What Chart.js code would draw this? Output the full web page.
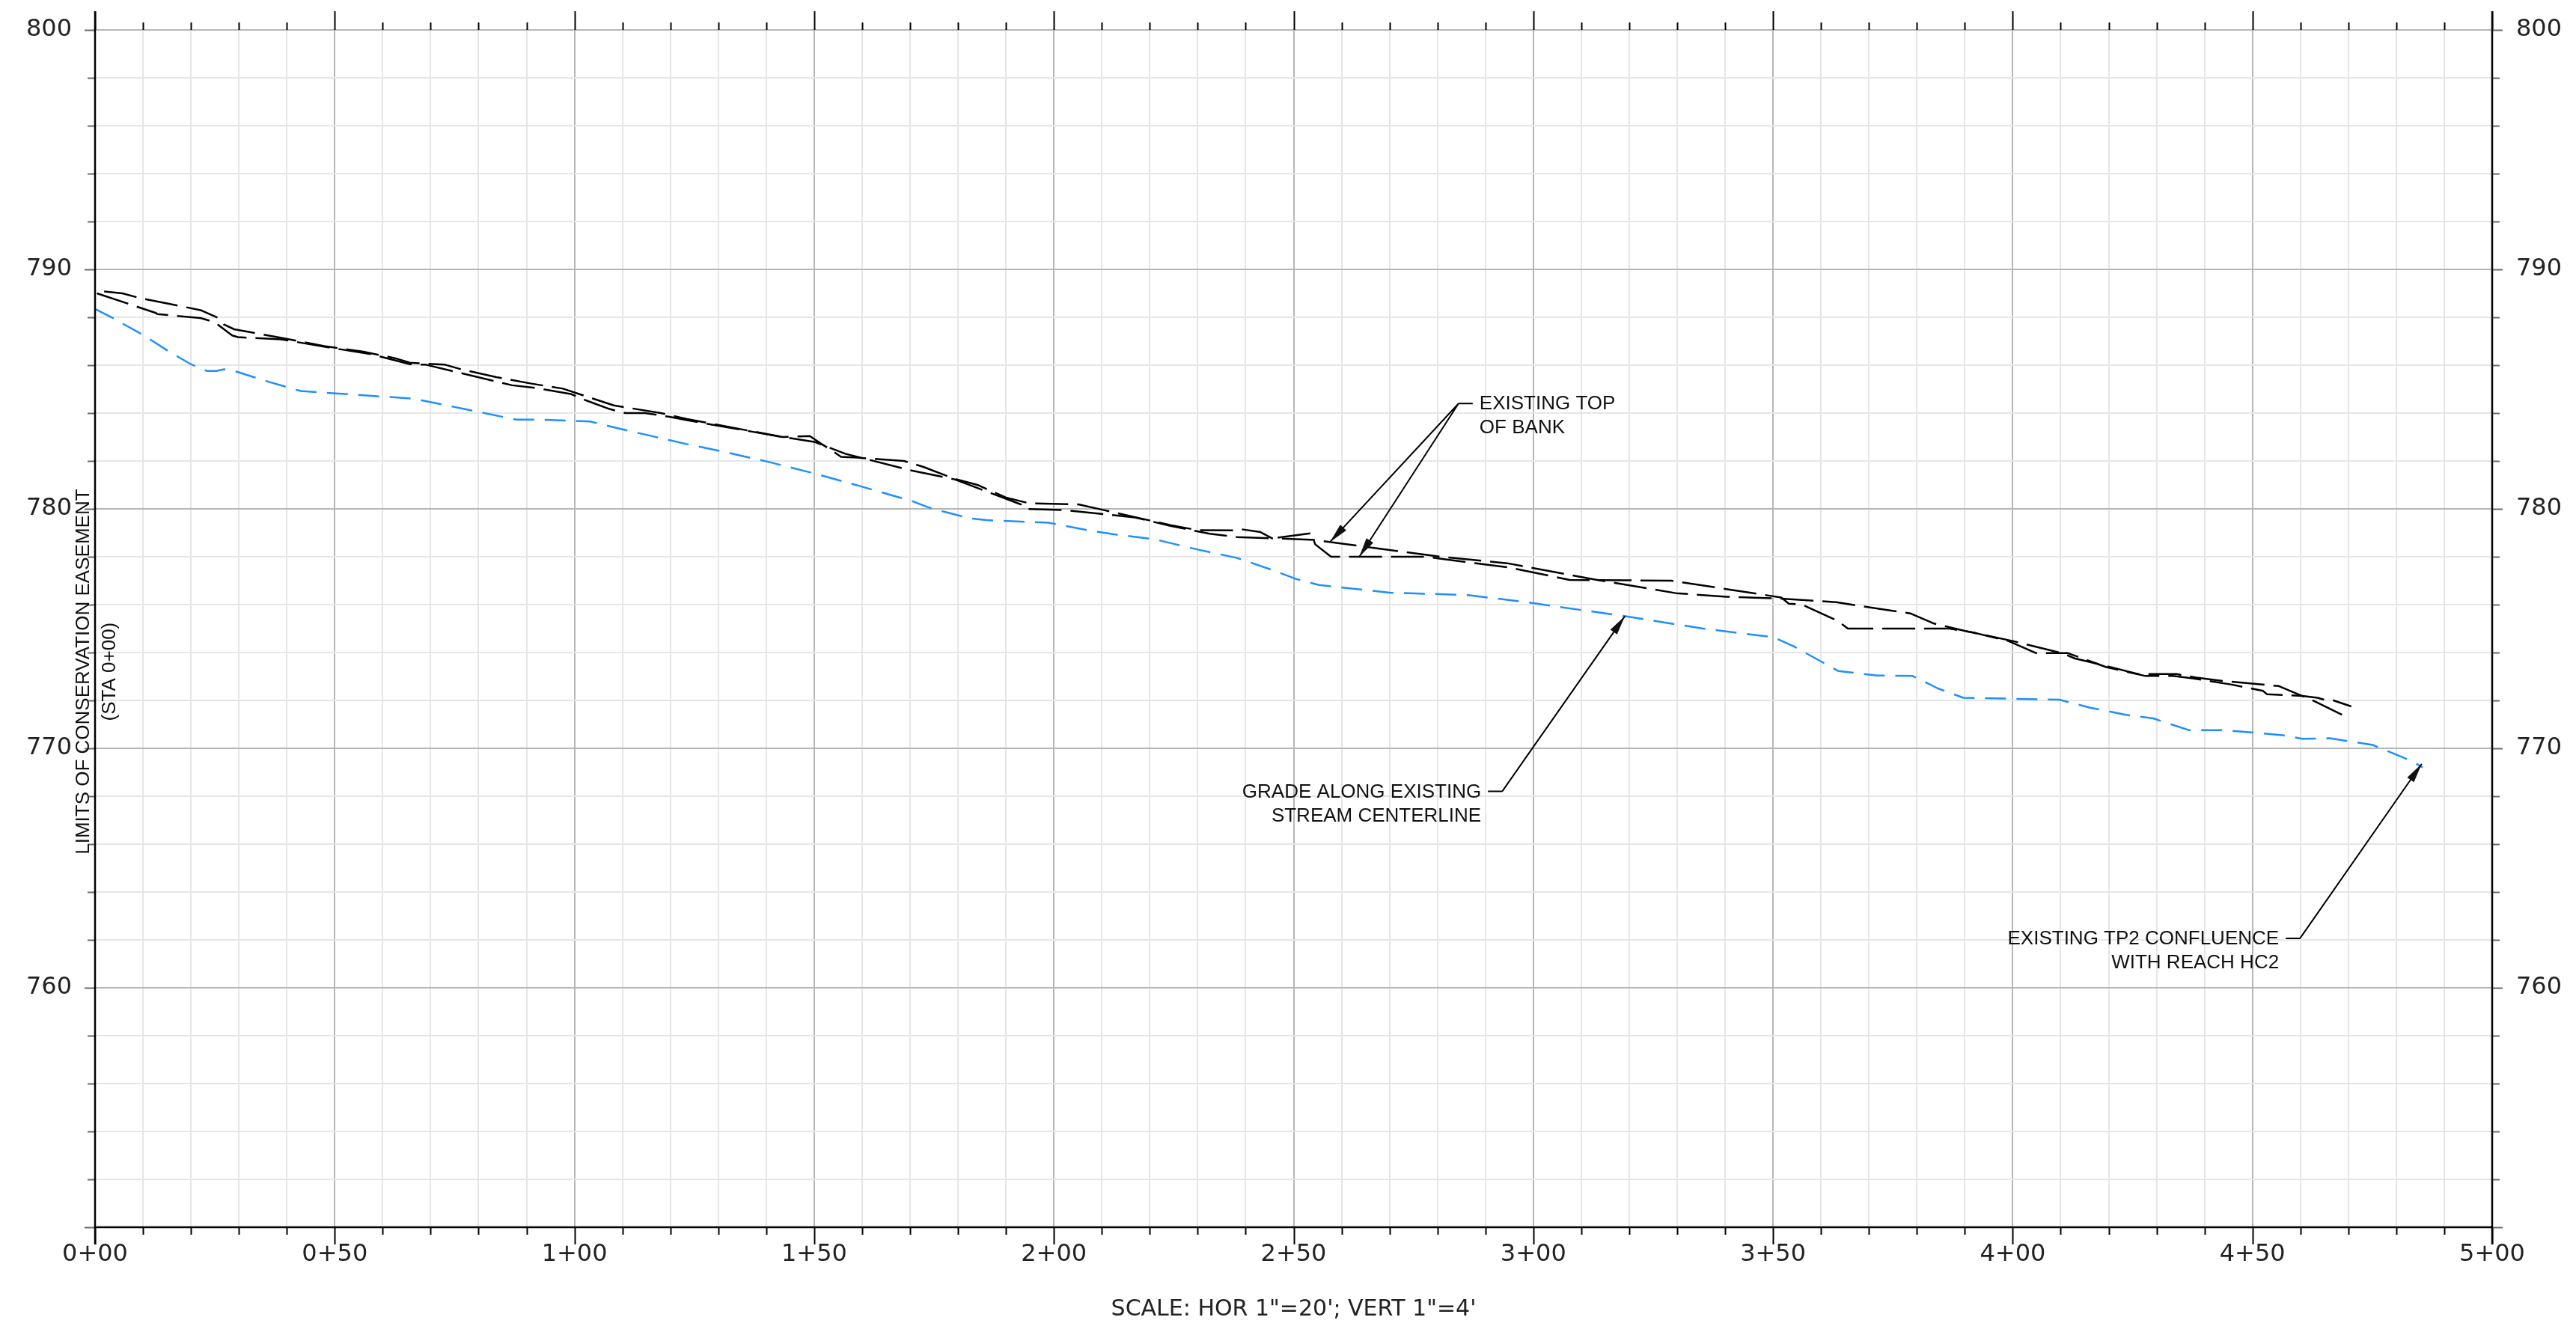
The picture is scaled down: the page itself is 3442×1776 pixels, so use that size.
<!DOCTYPE html>
<html>
<head>
<meta charset="utf-8">
<title>Stream Profile</title>
<script src="https://cdn.jsdelivr.net/npm/chart.js@4.4.1/dist/chart.umd.min.js"></script>
<style>
  html, body { margin: 0; padding: 0; background: #fff; }
  #wrap { width: 3442px; height: 1776px; }
</style>
</head>
<body>
<div id="wrap"><canvas id="profile" width="3442" height="1776"></canvas></div>
<script>
// --- Profile data: station (ft from 0+00) and elevation (ft) ---
const centerSta = [0, 3.7, 10.2, 15.5, 20, 23.3, 25.3, 26.9, 29, 36.3, 42.9, 50.2, 66.5, 77, 87.8, 93.5,
  103.3, 109.8, 123.5, 130.3, 140.1, 150, 159.7, 170.3, 174.4, 182.6, 185.9, 198.9, 207.1, 212.8, 221,
  230, 238.2, 245.5, 250.4, 255.3, 270, 286.4, 298.6, 319, 335.4, 350.1, 354.2, 363.6, 371.7, 379.1,
  384.4, 389.7, 409.7, 416.3, 423.6, 429.3, 436.7, 444, 456.3, 460.4, 466.1, 475.1, 483.3, 485.5];
const centerElev = [788.35, 787.97, 787.24, 786.56, 786.04, 785.76, 785.76, 785.83, 785.76, 785.3, 784.92,
  784.82, 784.6, 784.17, 783.73, 783.72, 783.65, 783.33, 782.7, 782.42, 781.98, 781.48, 780.94, 780.33,
  780.02, 779.6, 779.53, 779.42, 779.11, 778.93, 778.73, 778.3, 777.95, 777.45, 777.08, 776.82, 776.5,
  776.4, 776.1, 775.52, 775.0, 774.64, 774.27, 773.23, 773.04, 773.02, 772.5, 772.11, 772.03, 771.69,
  771.4, 771.25, 770.76, 770.76, 770.55, 770.4, 770.42, 770.14, 769.46, 769.2];

const bankASta = [1.9, 5.7, 9.4, 22, 25.7, 26.9, 29, 38, 47.8, 56, 62.4, 65.7, 73, 76.3, 83.7, 91, 97.6,
  102.4, 108.2, 118, 123.5, 143.4, 149.1, 151.6, 153.2, 155.6, 158.9, 168.7, 172.8, 179.3, 184.2, 190,
  194.9, 205.1, 210.4, 224.3, 230, 238.2, 239, 243.1, 245.5, 254.5, 265.9, 279.8, 294.5, 313.3, 329.7,
  340.3, 351.7, 363.2, 373.6, 378.7, 383.6, 390.1, 400, 410.5, 413, 419.5, 426.1, 434.2, 438.3, 444,
  455.5, 462.8, 469.4];
const bankAElev = [789.08, 789.0, 788.8, 788.3, 787.97, 787.7, 787.5, 787.17, 786.8, 786.56, 786.3, 786.1,
  786.02, 785.83, 785.5, 785.23, 785.02, 784.7, 784.32, 784.0, 783.75, 783.0, 783.04, 782.7, 782.5,
  782.17, 782.14, 782.0, 781.75, 781.25, 780.99, 780.47, 780.23, 780.19, 779.95, 779.32, 779.11, 779.1,
  779.15, 779.03, 778.77, 778.7, 778.39, 778.02, 777.73, 777.03, 776.48, 776.33, 776.25, 776.1, 775.78,
  775.63, 775.21, 774.9, 774.48, 773.96, 773.75, 773.44, 773.1, 773.1, 772.95, 772.81, 772.6, 771.98,
  771.33];

const bankBSta = [0.4, 12.7, 13, 22, 24.9, 28.6, 29.8, 38.8, 47.8, 57.6, 65.7, 69, 87, 91.8, 99.2, 102.4,
  107.3, 110.6, 114.7, 119.6, 123.5, 143.4, 150, 156.5, 170.3, 179.3, 190, 193.2, 194, 202.2, 216.9,
  224.3, 232.5, 238.2, 245.5, 253.7, 254.5, 257.8, 277.4, 295, 307.6, 328.8, 351.7, 353.3, 356.1, 363.6,
  365.6, 386.8, 391.7, 399.1, 404.8, 411.4, 419.5, 427.7, 433.4, 437.5, 445.7, 452.2, 453, 460.4, 463.6,
  465.3, 466.9, 470.6];
const bankBElev = [789.0, 788.18, 788.13, 787.97, 787.8, 787.24, 787.17, 787.08, 786.77, 786.46, 786.04,
  786.02, 785.16, 785.05, 784.8, 784.53, 784.17, 784.0, 784.0, 783.85, 783.7, 783.0, 782.8, 782.3, 781.6,
  781.23, 780.42, 780.18, 780.0, 779.95, 779.64, 779.29, 778.96, 778.82, 778.77, 778.98, 778.52, 778.0,
  778.0, 777.55, 777.03, 777.0, 776.3, 776.04, 776.0, 775.31, 775.0, 775.0, 774.84, 774.48, 773.98,
  773.98, 773.39, 773.02, 773.02, 772.92, 772.66, 772.4, 772.26, 772.19, 772.11, 772.01, 772.0, 771.75];

// labelled ticks
const stationMarks = [0, 50, 100, 150, 200, 250, 300, 350, 400, 450, 500];
const elevMarks = [760, 770, 780, 790, 800];

// leader notes: elbow and arrow tips in (station, elevation)
const notes = [
  { text: ['EXISTING TOP', 'OF BANK'], elbow: [284.4, 784.4], side: 1, tips: [[257.6, 778.62], [263.7, 778.0]] },
  { text: ['GRADE ALONG EXISTING', 'STREAM CENTERLINE'], elbow: [293.5, 768.2], side: -1, tips: [[319.1, 775.52]] },
  { text: ['EXISTING TP2 CONFLUENCE', 'WITH REACH HC2'], elbow: [459.9, 762.06], side: -1, tips: [[485.3, 769.35]] }
];

const toPoints = (sta, elev) => sta.map((s, i) => ({ x: s, y: elev[i] }));
const fmtStation = (v) => Math.floor(v / 100) + '+' + String(v % 100).padStart(2, '0');

const TICK_FONT = { family: 'DejaVu Sans', size: 32 };
const NOTE_FONT = '26px "Liberation Sans", Arial, sans-serif';

function arrowHead(ctx, fx, fy, tx, ty) {
  const ang = Math.atan2(ty - fy, tx - fx);
  const len = 26, half = 5.5;
  ctx.beginPath();
  ctx.moveTo(tx, ty);
  ctx.lineTo(tx - len * Math.cos(ang) + half * Math.sin(ang), ty - len * Math.sin(ang) - half * Math.cos(ang));
  ctx.lineTo(tx - len * Math.cos(ang) - half * Math.sin(ang), ty - len * Math.sin(ang) + half * Math.cos(ang));
  ctx.closePath();
  ctx.fill();
}

// fixed axis boxes so the plot frame lands where the sheet has it
function fixBox(size) {
  return (s) => {
    if (s.isHorizontal()) s.height = size; else s.width = size;
    s.paddingTop = 0; s.paddingBottom = 0; s.paddingLeft = 0; s.paddingRight = 0;
  };
}

// --- Frame, ticks and callouts drawn over the plot ---
const profileFrame = {
  id: 'profileFrame',
  afterDraw(chart) {
    const { ctx, chartArea: a, scales: { x, y } } = chart;
    ctx.save();

    // station ticks, top and bottom
    ctx.strokeStyle = '#000';
    ctx.lineWidth = 2;
    ctx.beginPath();
    x.ticks.forEach((t) => {
      const px = Math.round(x.getPixelForValue(t.value)) + 0.5;
      const major = t.value % 50 === 0;
      ctx.moveTo(px, a.top); ctx.lineTo(px, a.top - (major ? 25 : 10));
      ctx.moveTo(px, a.bottom); ctx.lineTo(px, a.bottom + (major ? 23 : 10));
    });
    ctx.stroke();

    // elevation ticks, both sides
    ctx.strokeStyle = '#6a6a6a';
    ctx.beginPath();
    y.ticks.forEach((t) => {
      const py = Math.round(y.getPixelForValue(t.value)) + 0.5;
      const len = t.value % 10 === 0 ? 14 : 10;
      ctx.moveTo(a.left, py); ctx.lineTo(a.left - len, py);
      ctx.moveTo(a.right, py); ctx.lineTo(a.right + len, py);
    });
    ctx.stroke();

    // frame: left, right, bottom
    ctx.strokeStyle = '#000';
    ctx.lineWidth = 2.5;
    ctx.beginPath();
    ctx.moveTo(a.left, a.top - 25); ctx.lineTo(a.left, a.bottom + 23);
    ctx.moveTo(a.right, a.top - 25); ctx.lineTo(a.right, a.bottom + 23);
    ctx.moveTo(a.left, a.bottom); ctx.lineTo(a.right, a.bottom);
    ctx.stroke();

    // callouts
    ctx.fillStyle = '#111';
    ctx.strokeStyle = '#000';
    ctx.lineWidth = 2;
    ctx.font = NOTE_FONT;
    ctx.textBaseline = 'middle';
    notes.forEach((n) => {
      const ex = x.getPixelForValue(n.elbow[0]);
      const ey = y.getPixelForValue(n.elbow[1]);
      const sx = ex + n.side * 19;
      ctx.beginPath();
      ctx.moveTo(sx, ey); ctx.lineTo(ex, ey);
      n.tips.forEach((tp) => {
        ctx.moveTo(ex, ey);
        ctx.lineTo(x.getPixelForValue(tp[0]), y.getPixelForValue(tp[1]));
      });
      ctx.stroke();
      n.tips.forEach((tp) => arrowHead(ctx, ex, ey, x.getPixelForValue(tp[0]), y.getPixelForValue(tp[1])));
      ctx.textAlign = n.side > 0 ? 'left' : 'right';
      n.text.forEach((line, i) => ctx.fillText(line, sx + n.side * 9, ey + 1 + i * 32));
    });

    // station 0+00 marker text, rotated
    const my = y.getPixelForValue(773.2);
    ctx.textAlign = 'center';
    ctx.save();
    ctx.translate(a.left - 15, my);
    ctx.rotate(-Math.PI / 2);
    ctx.fillText('LIMITS OF CONSERVATION EASEMENT', 0, 0);
    ctx.restore();
    ctx.save();
    ctx.translate(a.left + 20, my);
    ctx.rotate(-Math.PI / 2);
    ctx.fillText('(STA 0+00)', 0, 0);
    ctx.restore();

    // scale note under the station axis
    ctx.font = '30px "DejaVu Sans", sans-serif';
    ctx.fillStyle = '#222';
    ctx.fillText('SCALE: HOR 1"=20\'; VERT 1"=4\'', (a.left + a.right) / 2, 1750);

    ctx.restore();
  }
};

const lineStyle = { pointRadius: 0, borderWidth: 2.5, tension: 0, borderJoinStyle: 'round', fill: false };

new Chart(document.getElementById('profile'), {
  type: 'line',
  data: {
    datasets: [
      { label: 'Grade along existing stream centerline', data: toPoints(centerSta, centerElev),
        borderColor: '#1E8FFF', borderDash: [28, 14], ...lineStyle },
      { label: 'Existing top of bank', data: toPoints(bankASta, bankAElev),
        borderColor: '#000', borderDash: [44, 12], ...lineStyle },
      { label: 'Existing top of bank', data: toPoints(bankBSta, bankBElev),
        borderColor: '#000', borderDash: [44, 12], ...lineStyle }
    ]
  },
  options: {
    responsive: false,
    animation: false,
    layout: { padding: { top: 40, left: 0, right: 0, bottom: 0 } },
    plugins: { legend: { display: false }, tooltip: { enabled: false } },
    scales: {
      x: {
        type: 'linear', position: 'bottom', min: 0, max: 500,
        afterFit: fixBox(136),
        border: { display: false },
        grid: {
          drawTicks: false, lineWidth: 2,
          color: (c) => (c.tick && c.tick.value % 50 === 0 ? '#b6b6b6' : '#e6e6e6')
        },
        ticks: {
          stepSize: 10, autoSkip: false, maxRotation: 0, padding: 17,
          color: '#222', font: TICK_FONT,
          callback: (v) => (stationMarks.includes(v) ? fmtStation(v) : '')
        }
      },
      y: {
        type: 'linear', position: 'left', min: 750, max: 800,
        afterFit: fixBox(127),
        border: { display: false },
        grid: {
          drawTicks: false, lineWidth: 2,
          color: (c) => (c.tick && c.tick.value % 10 === 0 ? '#b6b6b6' : '#e6e6e6')
        },
        ticks: {
          stepSize: 2, autoSkip: false, padding: 31, color: '#222', font: TICK_FONT,
          callback: (v) => (elevMarks.includes(v) ? String(v) : '')
        }
      },
      y2: {
        type: 'linear', position: 'right', min: 750, max: 800,
        afterFit: fixBox(112),
        border: { display: false },
        grid: { display: false, drawTicks: false },
        ticks: {
          stepSize: 2, autoSkip: false, padding: 32, color: '#222', font: TICK_FONT,
          callback: (v) => (elevMarks.includes(v) ? String(v) : '')
        }
      }
    }
  },
  plugins: [profileFrame]
});
</script>
</body>
</html>
